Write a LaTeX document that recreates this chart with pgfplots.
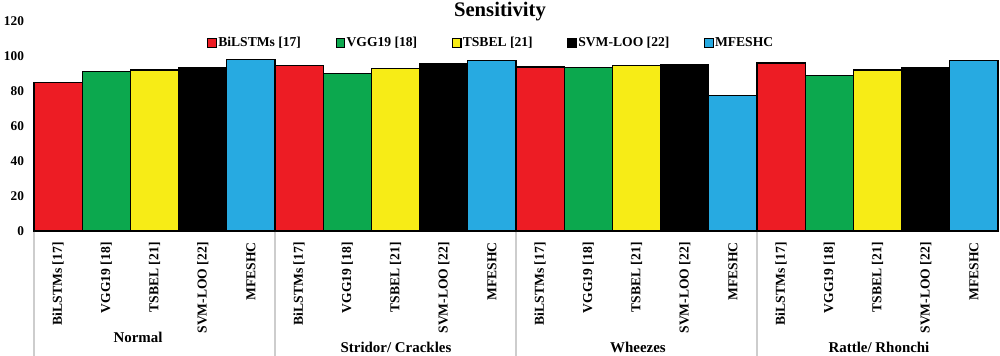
\documentclass[border=0pt]{standalone}
\usepackage{pgfplots}
\pgfplotsset{compat=1.18}
\usepackage{fontspec}
\setmainfont{Liberation Serif}
\definecolor{cRed}{RGB}{237,28,36}
\definecolor{cGreen}{RGB}{12,168,78}
\definecolor{cYellow}{RGB}{247,236,22}
\definecolor{cBlue}{RGB}{39,170,225}
\definecolor{cSep}{RGB}{205,205,205}
\begin{document}
\begin{tikzpicture}
\path[use as bounding box] (-25.5pt,-93.75pt) rectangle (724.5pt,173.25pt);
\begin{axis}[
  scale only axis,
  width=723pt, height=157.5pt,
  at={(0,0)}, anchor=south west,
  xmin=-0.5, xmax=19.5,
  ymin=0, ymax=120,
  ytick={0,20,...,120},
  xtick={0,...,19},
  xticklabels={{BiLSTMs [17]},{VGG19 [18]},{TSBEL [21]},{SVM-LOO [22]},{MFESHC},
               {BiLSTMs [17]},{VGG19 [18]},{TSBEL [21]},{SVM-LOO [22]},{MFESHC},
               {BiLSTMs [17]},{VGG19 [18]},{TSBEL [21]},{SVM-LOO [22]},{MFESHC},
               {BiLSTMs [17]},{VGG19 [18]},{TSBEL [21]},{SVM-LOO [22]},{MFESHC}},
  xticklabel shift=5pt,
  xticklabel style={rotate=90, anchor=east, font=\bfseries\fontsize{10.2}{12}\selectfont},
  yticklabel style={font=\bfseries\fontsize{10}{12}\selectfont, xshift=-4pt},
  /pgf/number format/assume math mode=true,
  axis line style={draw=none},
  major tick length=0pt,
  ybar, bar width=1, bar shift=0pt,
  clip=false,
  legend columns=5,
  legend style={draw=none, fill=none, at={(0.474,0.895)}, anchor=center,
    font=\bfseries\fontsize{10.2}{12}\selectfont,
    /tikz/every even column/.append style={column sep=25pt},
    nodes={inner xsep=1pt}},
  legend image code/.code={\draw[#1, draw=black, line width=0.8pt] (0pt,-3.2pt) rectangle (6.4pt,3.2pt);},
]
\addplot[fill=cRed, draw=black, line width=1pt] coordinates {(0,85) (5,94.7) (10,93.8) (15,96)};
\addlegendentry{BiLSTMs [17]}
\addplot[fill=cGreen, draw=black, line width=1pt] coordinates {(1,91) (6,90) (11,93.3) (16,89)};
\addlegendentry{VGG19 [18]}
\addplot[fill=cYellow, draw=black, line width=1pt] coordinates {(2,92) (7,93) (12,94.7) (17,92)};
\addlegendentry{TSBEL [21]}
\addplot[fill=black, draw=black, line width=1pt] coordinates {(3,93.3) (8,95.4) (13,95) (18,93.3)};
\addlegendentry{SVM-LOO [22]}
\addplot[fill=cBlue, draw=black, line width=1pt] coordinates {(4,98) (9,97.6) (14,77.3) (19,97.6)};
\addlegendentry{MFESHC}
\end{axis}
\foreach \x in {0,180.75,361.5,542.25} {
  \draw[cSep, line width=0.8pt] (\x pt,-0.5pt) -- (\x pt,-93.75pt);
}
\node[font=\bfseries\fontsize{15.5}{18}\selectfont, anchor=base] at (349.5pt,160.5pt) {Sensitivity};
\node[font=\bfseries\fontsize{11.2}{13}\selectfont] at (78pt,-79.5pt) {Normal};
\node[font=\bfseries\fontsize{11.2}{13}\selectfont] at (271.5pt,-87pt) {Stridor/ Crackles};
\node[font=\bfseries\fontsize{11.2}{13}\selectfont] at (453pt,-87pt) {Wheezes};
\node[font=\bfseries\fontsize{11.2}{13}\selectfont] at (633.75pt,-87pt) {Rattle/ Rhonchi};
\end{tikzpicture}
\end{document}
